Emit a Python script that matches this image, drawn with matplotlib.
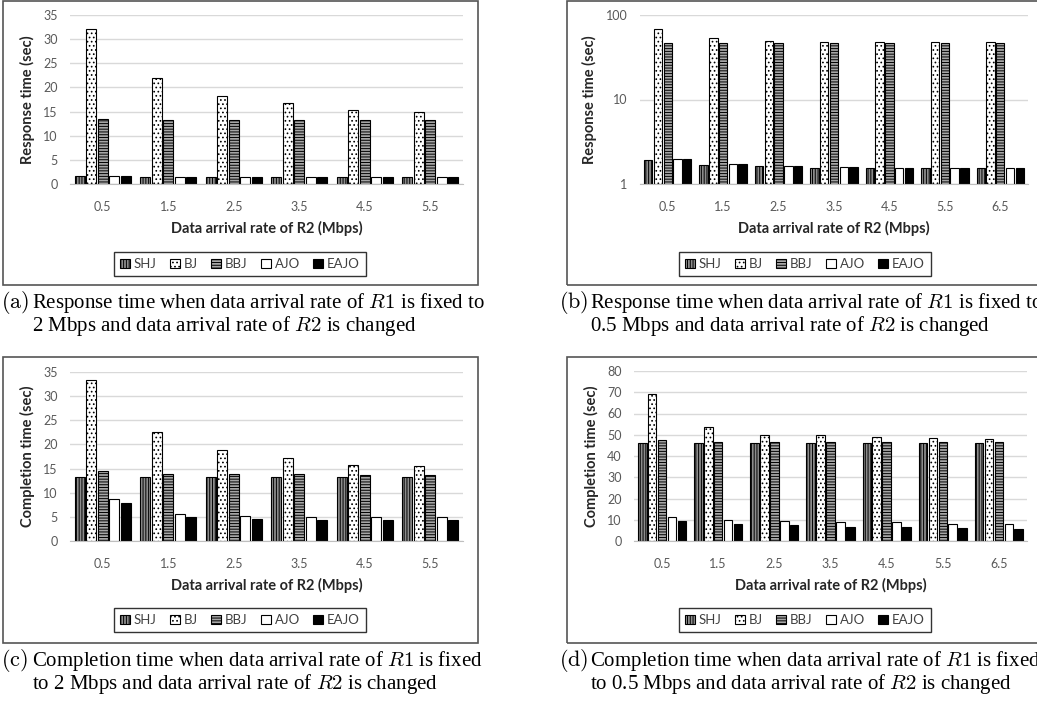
import numpy as np
import matplotlib
matplotlib.use("Agg")
import matplotlib.pyplot as plt
from matplotlib.patches import Rectangle
from matplotlib.ticker import FixedLocator, FixedFormatter

plt.rcParams['font.family'] = ['Lato', 'DejaVu Sans']
plt.rcParams['mathtext.fontset'] = 'cm'
plt.rcParams['hatch.linewidth'] = 0.7

# data
series = ['SHJ', 'BJ', 'BBJ', 'AJO', 'EAJO']

rates_a = ['0.5', '1.5', '2.5', '3.5', '4.5', '5.5']
resp_a_shj = [1.6, 1.5, 1.5, 1.5, 1.5, 1.5]
resp_a_bj = [32.1, 21.9, 18.2, 16.8, 15.4, 15.0]
resp_a_bbj = [13.5, 13.3, 13.3, 13.3, 13.3, 13.3]
resp_a_ajo = [1.6, 1.4, 1.4, 1.4, 1.4, 1.4]
resp_a_eajo = [1.6, 1.5, 1.5, 1.5, 1.5, 1.5]

rates_b = ['0.5', '1.5', '2.5', '3.5', '4.5', '5.5', '6.5']
resp_b_shj = [1.94, 1.69, 1.63, 1.56, 1.56, 1.55, 1.55]
resp_b_bj = [67.7, 53.0, 49.7, 48.4, 48.4, 47.5, 47.5]
resp_b_bbj = [46.3, 46.3, 46.3, 46.3, 46.3, 46.3, 46.3]
resp_b_ajo = [1.96, 1.71, 1.63, 1.59, 1.56, 1.56, 1.53]
resp_b_eajo = [1.96, 1.71, 1.63, 1.59, 1.56, 1.56, 1.53]

comp_c_shj = [13.3, 13.3, 13.3, 13.3, 13.3, 13.3]
comp_c_bj = [33.3, 22.6, 18.8, 17.2, 15.8, 15.5]
comp_c_bbj = [14.5, 13.9, 13.8, 13.8, 13.7, 13.7]
comp_c_ajo = [8.6, 5.5, 5.1, 4.9, 4.9, 4.9]
comp_c_eajo = [7.9, 4.9, 4.5, 4.3, 4.3, 4.3]

comp_d_shj = [46, 46, 46, 46, 46, 46, 46]
comp_d_bj = [69.0, 53.5, 50.0, 49.7, 49.1, 48.3, 47.9]
comp_d_bbj = [47.3, 46.5, 46.5, 46.5, 46.5, 46.5, 46.5]
comp_d_ajo = [11.5, 9.9, 9.6, 8.8, 8.8, 7.9, 7.9]
comp_d_eajo = [9.4, 8.0, 7.7, 6.8, 6.8, 6.1, 5.8]

styles = [
    dict(facecolor='#8c8c8c', hatch='||||||'),
    dict(facecolor='white', hatch='....'),
    dict(facecolor='#a6a6a6', hatch='------'),
    dict(facecolor='white', hatch=None),
    dict(facecolor='black', hatch=None),
]

W, H = 1037, 710
fig = plt.figure(figsize=(W / 100, H / 100), dpi=100)


def px(x0, y0, x1, y1):
    return [x0 / W, 1 - y1 / H, (x1 - x0) / W, (y1 - y0) / H]


def panel(rect, labels, data, ylabel, ylim, yticks, log=False):
    ax = fig.add_axes(px(*rect))
    x = np.arange(len(labels))
    bars = []
    for i, (vals, st) in enumerate(zip(data, styles)):
        vals = np.array(vals)
        if log:
            b = ax.bar(x + (i - 2) * 0.176, vals - 1, 0.152, bottom=1,
                       edgecolor='black', linewidth=0.8, **st)
        else:
            b = ax.bar(x + (i - 2) * 0.176, vals, 0.152,
                       edgecolor='black', linewidth=0.8, **st)
        bars.append(b)
    if log:
        ax.set_yscale('log')
    ax.set_ylim(*ylim)
    ax.yaxis.set_major_locator(FixedLocator(yticks))
    ax.yaxis.set_major_formatter(FixedFormatter([str(t) for t in yticks]))
    ax.yaxis.set_minor_locator(FixedLocator([]))
    ax.set_xlim(-0.5, len(labels) - 0.5)
    ax.set_xticks(x)
    ax.set_xticklabels(labels)
    ax.tick_params(length=0, labelsize=9, labelcolor='#595959')
    ax.tick_params(axis='x', pad=12)
    ax.tick_params(axis='y', pad=9)
    ax.yaxis.grid(True, color='#d9d9d9', linewidth=1)
    ax.set_axisbelow(True)
    for s in ['top', 'right', 'left']:
        ax.spines[s].set_visible(False)
    ax.spines['bottom'].set_color('#bfbfbf')
    ax.set_xlabel('Data arrival rate of R2 (Mbps)', fontsize=10.5,
                  fontweight='bold', color='#262626', labelpad=6)
    ax.set_ylabel(ylabel, fontsize=10.5, fontweight='bold', color='#262626',
                  labelpad=6)
    return ax, bars


def frame(x0, y0, x1, y1):
    fig.add_artist(Rectangle((x0 / W, 1 - y1 / H), (x1 - x0) / W, (y1 - y0) / H,
                             fill=False, edgecolor='#555555', linewidth=1.2,
                             transform=fig.transFigure))


def legend(bars, cx, cy):
    fig.legend(bars, series, loc='center', bbox_to_anchor=(cx / W, 1 - cy / H),
               ncol=5, frameon=True, fancybox=False, edgecolor='black',
               fontsize=9.5, handlelength=0.75, handleheight=0.75,
               handletextpad=0.3, columnspacing=1.0, borderpad=0.45,
               labelcolor='#404040').get_frame().set_linewidth(1.0)


def caption(x, y, tag, line1, line2):
    fig.text(x, 1 - y / H, tag, fontsize=16, va='center', ha='left')
    fig.text(x + 31 / W, 1 - y / H, line1, fontsize=15, va='center',
             family='Liberation Serif')
    fig.text(x + 31 / W, 1 - (y + 23) / H, line2, fontsize=15, va='center',
             family='Liberation Serif')


frame(3, 0.5, 478, 285)
frame(567, 0.5, 1045, 285)
frame(3, 357, 478, 643)
frame(567, 357, 1045, 643)

ax, bars = panel((70, 15, 463, 184), rates_a,
                 [resp_a_shj, resp_a_bj, resp_a_bbj, resp_a_ajo, resp_a_eajo],
                 'Response time (sec)', (0, 35), [0, 5, 10, 15, 20, 25, 30, 35])
legend(bars, 240, 264)

ax, bars = panel((640, 15, 1028, 184), rates_b,
                 [resp_b_shj, resp_b_bj, resp_b_bbj, resp_b_ajo, resp_b_eajo],
                 'Response time (sec)', (1, 100), [1, 10, 100], log=True)
legend(bars, 805, 264)

ax, bars = panel((70, 372, 463, 541), rates_a,
                 [comp_c_shj, comp_c_bj, comp_c_bbj, comp_c_ajo, comp_c_eajo],
                 'Completion time (sec)', (0, 35), [0, 5, 10, 15, 20, 25, 30, 35])
legend(bars, 240, 620)

ax, bars = panel((634, 371, 1027, 541), rates_b,
                 [comp_d_shj, comp_d_bj, comp_d_bbj, comp_d_ajo, comp_d_eajo],
                 'Completion time (sec)', (0, 80), [0, 10, 20, 30, 40, 50, 60, 70, 80])
legend(bars, 805, 620)

caption(1 / W, 303, r'$\mathrm{(a)}$',
        r'Response time when data arrival rate of $R1$ is fixed to',
        r'2 Mbps and data arrival rate of $R2$ is changed')
caption(559 / W, 303, r'$\mathrm{(b)}$',
        r'Response time when data arrival rate of $R1$ is fixed to',
        r'0.5 Mbps and data arrival rate of $R2$ is changed')
caption(1 / W, 661, r'$\mathrm{(c)}$',
        r'Completion time when data arrival rate of $R1$ is fixed',
        r'to 2 Mbps and data arrival rate of $R2$ is changed')
caption(559 / W, 661, r'$\mathrm{(d)}$',
        r'Completion time when data arrival rate of $R1$ is fixed',
        r'to 0.5 Mbps and data arrival rate of $R2$ is changed')

fig.savefig('out.png', dpi=100)
